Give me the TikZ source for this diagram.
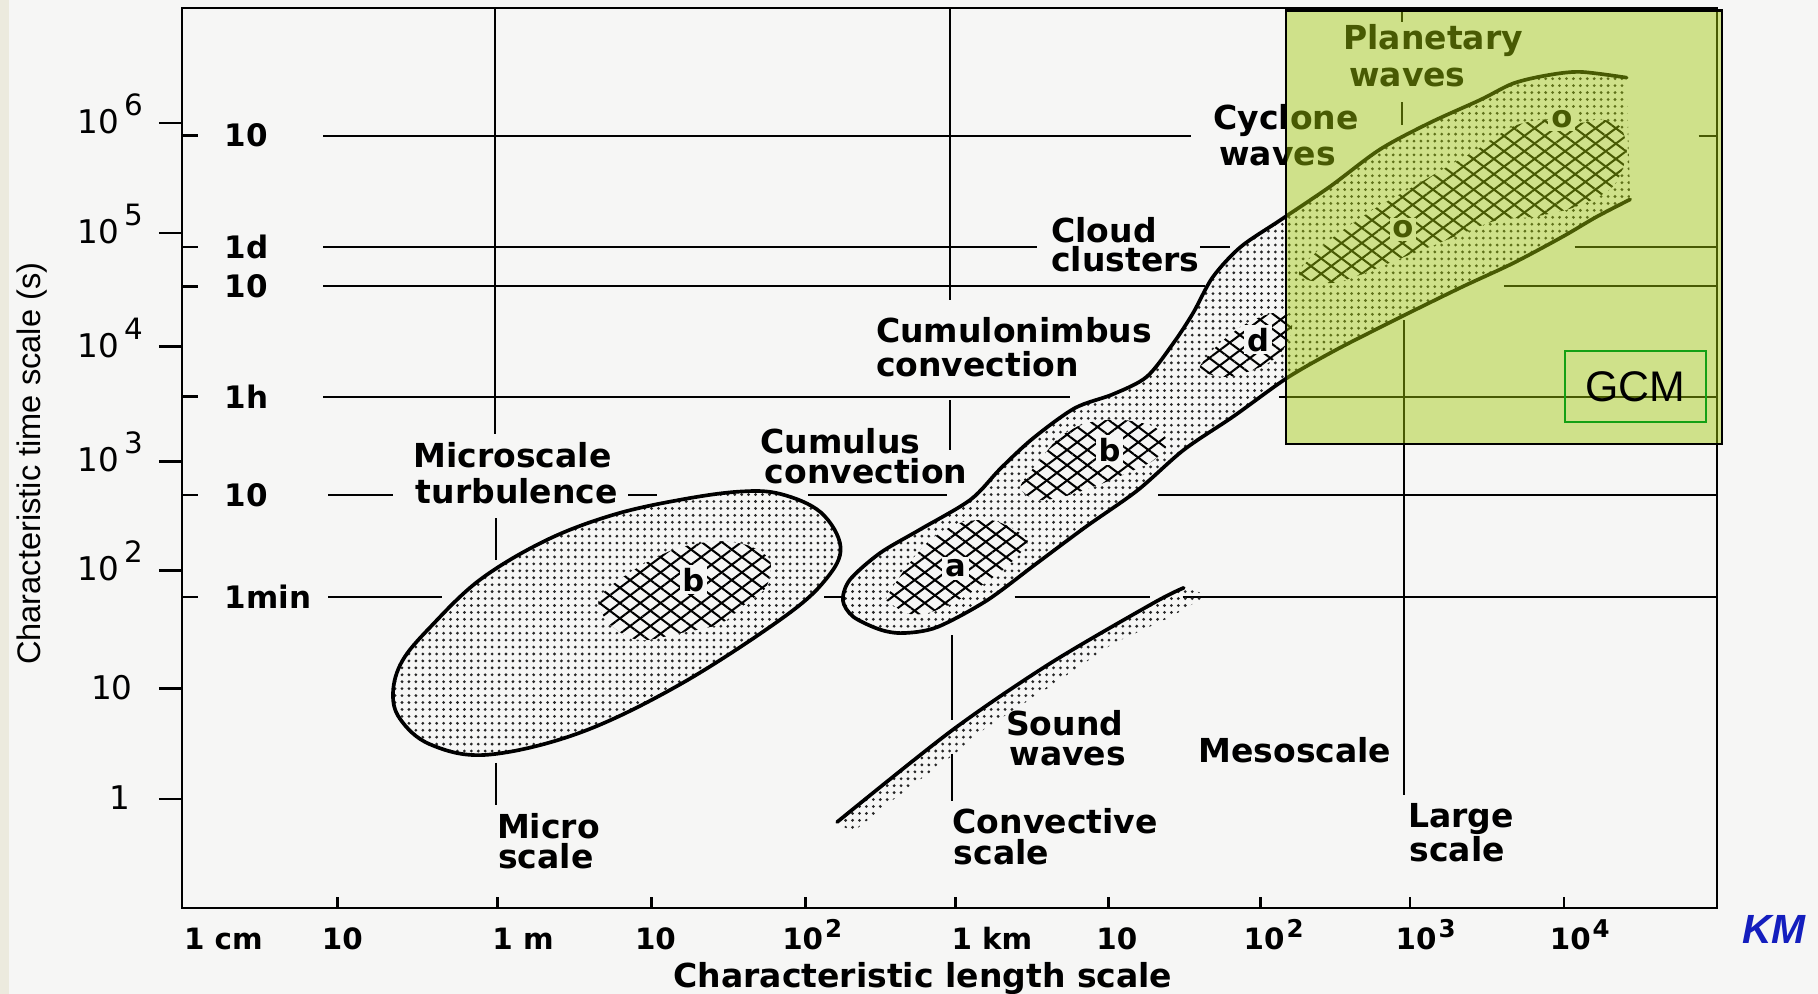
\documentclass[tikz,border=0pt]{standalone}
\usepackage{fontspec}
\setmainfont{DejaVu Sans}
\newfontfamily\arialf{Liberation Sans}
\usetikzlibrary{patterns.meta}
\definecolor{bgc}{RGB}{246,246,245}
\definecolor{ovl}{RGB}{160,200,8}
\definecolor{gcmc}{RGB}{20,160,20}
\definecolor{kmc}{RGB}{20,30,190}
\definecolor{edgec}{RGB}{236,234,222}
\newcommand\ylp[1]{10\kern1.2pt\raisebox{0.55em}{\fontsize{7.2}{8}\selectfont #1}}
\newcommand\xlp[1]{10\kern0.5pt\raisebox{0.42em}{\fontsize{6}{7}\selectfont #1}}
\newcommand\hblob[1]{%
  \fill[bgc] plot[smooth cycle] coordinates {#1};
  \path[hatA] plot[smooth cycle] coordinates {#1};
  \path[hatB] plot[smooth cycle] coordinates {#1};}
\tikzset{
  lab/.style={font=\fontsize{8.1}{9}\selectfont\bfseries, inner sep=0pt, anchor=base west},
  xl/.style={font=\fontsize{7.2}{8}\selectfont\bfseries, inner sep=0pt, anchor=base west},
  yo/.style={font=\fontsize{8}{9}\selectfont, inner sep=0pt, anchor=base east},
  yi/.style={font=\fontsize{7.6}{8}\selectfont\bfseries, inner sep=0pt, anchor=west},
  gl/.style={line width=0.5pt},
  ax/.style={line width=0.65pt},
  outl/.style={line width=0.9pt, line join=round, line cap=round},
  dotfill/.style={pattern={Dots[distance=1.7pt, radius=0.38pt]}, pattern color=black!85},
  hatA/.style={pattern={Lines[angle=37, distance=3pt, line width=0.5pt]}, pattern color=black},
  hatB/.style={pattern={Lines[angle=-37, distance=3pt, line width=0.5pt]}, pattern color=black},
  letr/.style={font=\fontsize{7.5}{8}\selectfont\bfseries, fill=bgc, inner sep=0.7pt},
}
\begin{document}
\begin{tikzpicture}[x=0.01cm, y=-0.01cm]
\useasboundingbox (0,0) rectangle (1568,857);
\fill[bgc] (0,0) rectangle (1568,857);
\fill[edgec] (0,0) rectangle (8,857);

% frame
\draw[ax] (157,7) rectangle (1481,783);
% outer y ticks
\foreach \yy in {106,201,299,398,492,594,689} \draw[ax] (137,\yy) -- (157,\yy);
% inner y ticks
\foreach \yy in {117,213,247,342,427,515} \draw[ax] (157,\yy) -- (171,\yy);
% x ticks
\foreach \xx in {291,429,562,695,824,956,1087,1216,1349} \draw[ax] (\xx,774) -- (\xx,783);

% horizontal grid lines
\draw[gl] (279,117) -- (1027,117) (1465,117) -- (1481,117);
\draw[gl] (279,213) -- (894,213) (1035,213) -- (1061,213) (1358,213) -- (1481,213);
\draw[gl] (279,247) -- (1039,247) (1297,247) -- (1481,247);
\draw[gl] (279,342) -- (923,342) (1103,342) -- (1481,342);
\draw[gl] (283,427) -- (339,427) (542,427) -- (567,427) (697,427) -- (817,427) (999,427) -- (1481,427);
\draw[gl] (283,515) -- (381,515) (711,515) -- (727,515) (875,515) -- (992,515) (1020,515) -- (1481,515);
% vertical grid lines
\draw[gl] (427,7) -- (427,374) (428,447) -- (428,483) (428,658) -- (428,694);
\draw[gl] (819,7) -- (819,259) (819,345) -- (819,388) (821,548) -- (821,621) (821,650) -- (821,691);
\draw[gl] (1209,9) -- (1209,19) (1209,88) -- (1209,108) (1211,276) -- (1211,686);

% microscale turbulence ellipse
\path[dotfill] plot[smooth cycle, tension=0.6] coordinates {(339,597) (347,570) (371,541) (414,500) (471,466) (529,444) (587,431) (638,424) (673,426) (708,442) (725,472) (712,500) (675,533) (587,590) (500,632) (420,651) (371,642) (345,620)};
\hblob{(517,515) (546,492) (581,474) (615,467) (644,470) (664,483) (661,506) (644,520) (621,538) (587,546) (558,552) (541,549) (523,535)}
\draw[outl] plot[smooth cycle, tension=0.6] coordinates {(339,597) (347,570) (371,541) (414,500) (471,466) (529,444) (587,431) (638,424) (673,426) (708,442) (725,472) (712,500) (675,533) (587,590) (500,632) (420,651) (371,642) (345,620)};
\node[letr] (lb1) at (598,500) {b};

% convection / cloud / cyclone band
\path[dotfill] plot[smooth, tension=0.5] coordinates {(1403,67) (1363,62) (1334,65) (1305,72) (1277,86) (1233,106) (1190,129) (1147,161) (1104,190) (1070,213) (1046,239) (1029,270) (1012,296) (989,325) (960,340) (927,352) (891,378) (863,404) (837,431) (793,457) (759,477) (733,500) (727,518) (736,532) (759,543) (779,546) (808,541) (851,518) (894,486) (937,454) (981,423) (1021,388) (1064,359) (1110,326) (1150,303) (1185,285) (1219,268) (1262,247) (1305,227) (1348,204) (1377,187) (1406,172)} -- cycle;
\hblob{(765,515) (782,489) (802,466) (828,451) (857,449) (880,460) (886,469) (868,489) (845,506) (822,520) (799,529) (782,529) (768,520)}
\hblob{(880,420) (897,397) (914,377) (937,365) (966,362) (995,368) (1007,382) (995,397) (972,408) (943,420) (914,429) (894,431)}
\hblob{(1035,316) (1052,296) (1075,279) (1098,270) (1113,273) (1113,290) (1101,308) (1081,319) (1058,325) (1041,322)}
\hblob{(1121,233) (1147,207) (1184,181) (1219,161) (1248,144) (1277,127) (1305,109) (1334,103) (1363,106) (1380,103) (1397,109) (1403,127) (1400,144) (1391,161) (1374,172) (1351,181) (1322,187) (1291,190) (1262,201) (1233,213) (1205,224) (1176,236) (1150,244) (1127,241)}
\draw[outl] plot[smooth, tension=0.5] coordinates {(1403,67) (1363,62) (1334,65) (1305,72) (1277,86) (1233,106) (1190,129) (1147,161) (1104,190) (1070,213) (1046,239) (1029,270) (1012,296) (989,325) (960,340) (927,352) (891,378) (863,404) (837,431) (793,457) (759,477) (733,500) (727,518) (736,532) (759,543) (779,546) (808,541) (851,518) (894,486) (937,454) (981,423) (1021,388) (1064,359) (1110,326) (1150,303) (1185,285) (1219,268) (1262,247) (1305,227) (1348,204) (1377,187) (1406,172)};
\node[letr] (la2) at (824,490) {a};
\node[letr] (lb2) at (957,388) {b};
\node[letr] (ld) at (1085,293) {d};
\node[letr] (lo1) at (1210,198) {o};
\node[letr] (lo2) at (1347,103) {o};

% sound waves
\path[dotfill] plot[smooth] coordinates {(722,709) (821,630) (906,572) (995,520) (1021,507)} -- (1042,513) -- (1010,532) -- (960,555) -- (906,592) -- (850,628) -- (821,652) -- (770,690) -- (735,718) -- cycle;
\draw[outl] plot[smooth] coordinates {(722,709) (821,630) (906,572) (995,520) (1021,507)};

% labels
\node[lab] (mic1) at (356,403) {Microscale};
\node[lab] (mic2) at (358,434) {turbulence};
\node[lab] (cu1) at (655,391) {Cumulus};
\node[lab] (cu2) at (659,417) {convection};
\node[lab] (cb1) at (755,295) {Cumulonimbus};
\node[lab] (cb2) at (755,325) {convection};
\node[lab] (cl1) at (906,209) {Cloud};
\node[lab] (cl2) at (906,234) {clusters};
\node[lab] (cy1) at (1046,112) {Cyclone};
\node[lab] (cy2) at (1051,143) {waves};
\node[lab] (pl1) at (1158,43) {Planetary};
\node[lab] (pl2) at (1163,75) {waves};
\node[lab] (sw1) at (867,634) {Sound};
\node[lab] (sw2) at (870,660) {waves};
\node[lab] (meso) at (1033,658) {Mesoscale};
\node[lab] (ms1) at (428,723) {Micro};
\node[lab] (ms2) at (429,749) {scale};
\node[lab] (cs1) at (821,719) {Convective};
\node[lab] (cs2) at (822,746) {scale};
\node[lab] (ls1) at (1214,714) {Large};
\node[lab] (ls2) at (1215,743) {scale};

% y axis labels
\node[yo] (y6) at (124,115) {\ylp{6}};
\node[yo] (y5) at (124,210) {\ylp{5}};
\node[yo] (y4) at (124,308) {\ylp{4}};
\node[yo] (y3) at (124,407) {\ylp{3}};
\node[yo] (y2) at (124,501) {\ylp{2}};
\node[yo] (y1) at (115,603) {10};
\node[yo] (y0) at (113,698) {1};
\node[yi] (t1) at (193,117) {10};
\node[yi] (t2) at (193,213) {1d};
\node[yi] (t3) at (193,247) {10};
\node[yi] (t4) at (193,342) {1h};
\node[yi] (t5) at (193,427) {10};
\node[yi] (t6) at (193,515) {1min};
\node[rotate=90, font=\arialf\fontsize{8}{9}\selectfont, inner sep=0pt] (ytitle) at (28,400) {Characteristic time scale (s)};

% x axis labels
\node[xl] (x0) at (158,819) {1 cm};
\node[xl] (x1) at (277,819) {10};
\node[xl] (x2) at (424,819) {1 m};
\node[xl] (x3) at (547,819) {10};
\node[xl] (x4) at (674,819) {\xlp{2}};
\node[xl] (x5) at (820,819) {1 km};
\node[xl] (x6) at (945,819) {10};
\node[xl] (x7) at (1072,819) {\xlp{2}};
\node[xl] (x8) at (1203,819) {\xlp{3}};
\node[xl] (x9) at (1336,819) {\xlp{4}};
\node[font=\fontsize{8.1}{9}\selectfont\bfseries, inner sep=0pt, anchor=base] (xtitle) at (796,852) {Characteristic length scale};

% GCM overlay
\fill[ovl, opacity=0.45] (1109,9) rectangle (1485,383);
\draw[line width=0.6pt] (1109,9) rectangle (1485,383);
\node[draw=gcmc, line width=0.5pt, minimum width=1.21cm, minimum height=0.61cm, inner sep=0pt, font=\arialf\fontsize{10.5}{12}\selectfont] (gcm) at (1410.5,333.5) {GCM};
\node[font=\arialf\bfseries\itshape\fontsize{10}{12}\selectfont, text=kmc, inner sep=0pt] (km) at (1530,802) {KM};
\end{tikzpicture}
\end{document}
